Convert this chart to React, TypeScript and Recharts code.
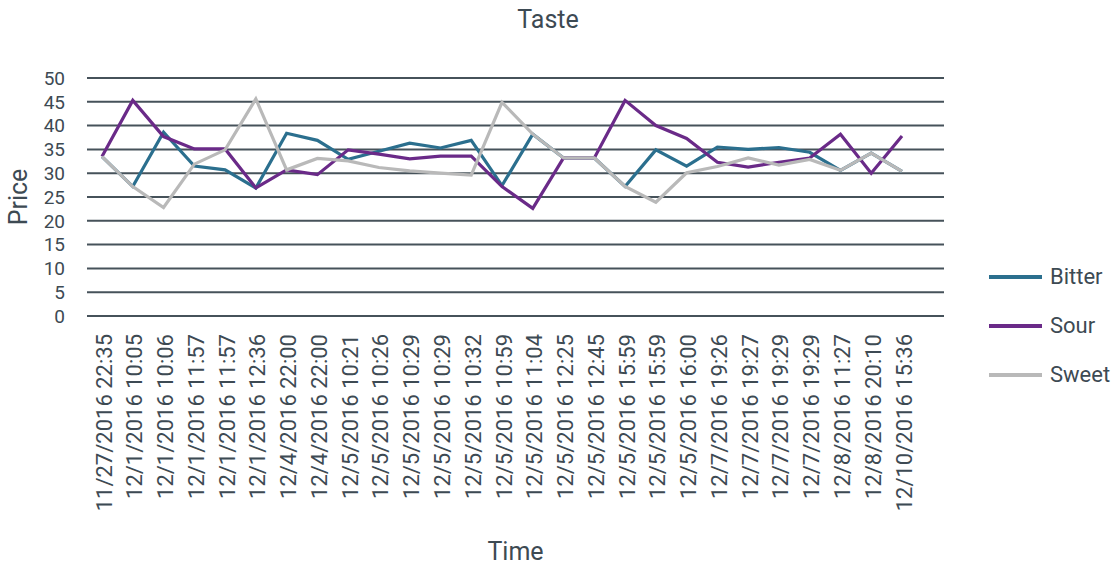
import { CartesianGrid, Label, Legend, Line, LineChart, XAxis, YAxis } from "recharts";

const times = [
  "11/27/2016 22:35", "12/1/2016 10:05", "12/1/2016 10:06", "12/1/2016 11:57", "12/1/2016 11:57",
  "12/1/2016 12:36", "12/4/2016 22:00", "12/4/2016 22:00", "12/5/2016 10:21", "12/5/2016 10:26",
  "12/5/2016 10:29", "12/5/2016 10:29", "12/5/2016 10:32", "12/5/2016 10:59", "12/5/2016 11:04",
  "12/5/2016 12:25", "12/5/2016 12:45", "12/5/2016 15:59", "12/5/2016 15:59", "12/5/2016 16:00",
  "12/7/2016 19:26", "12/7/2016 19:27", "12/7/2016 19:29", "12/7/2016 19:29", "12/8/2016 11:27",
  "12/8/2016 20:10", "12/10/2016 15:36",
];

const bitter = [
  33.5, 27.2, 38.6, 31.5, 30.7, 26.9, 38.4, 36.9, 32.9, 34.6, 36.3, 35.3, 36.9, 27.4,
  38.2, 33.2, 33.2, 27.2, 34.9, 31.5, 35.5, 35.0, 35.4, 34.4, 30.6, 34.2, 30.4,
];
const sour = [
  33.5, 45.3, 37.7, 35.1, 35.1, 26.9, 30.7, 29.7, 34.9, 34.0, 33.0, 33.6, 33.6, 27.2,
  22.6, 33.2, 33.2, 45.3, 40.0, 37.3, 32.3, 31.3, 32.3, 33.2, 38.2, 30.0, 37.8,
];
const sweet = [
  33.5, 27.2, 22.8, 31.9, 34.9, 45.6, 30.7, 33.1, 32.6, 31.2, 30.5, 30.0, 29.6, 44.9,
  38.2, 33.2, 33.2, 27.2, 23.9, 30.1, 31.4, 33.2, 31.7, 32.9, 30.6, 34.2, 30.4,
];
const yTicks = [0, 5, 10, 15, 20, 25, 30, 35, 40, 45, 50];

const series = [
  { key: "Bitter", color: "#2b6f8e" },
  { key: "Sour", color: "#6a2a88" },
  { key: "Sweet", color: "#b9b9b9" },
];

const data = times.map((t, i) => ({
  time: t,
  Bitter: bitter[i],
  Sour: sour[i],
  Sweet: sweet[i],
}));

const textColor = "#3d4a53";
const font = "Roboto, sans-serif";

function TimeTick(props: any) {
  const { x, y, payload } = props;
  const tx = x + 2;
  const ty = y + 10;
  return (
    <text
      x={tx}
      y={ty}
      transform={`rotate(-90, ${tx}, ${ty})`}
      textAnchor="end"
      dominantBaseline="central"
      fill={textColor}
      fontSize={22}
      fontFamily={font}
    >
      {payload.value}
    </text>
  );
}

function LegendBox() {
  return (
    <div style={{ fontFamily: font, color: textColor, fontSize: 22 }}>
      {series.map((s) => (
        <div key={s.key} style={{ display: "flex", alignItems: "center", height: 49 }}>
          <div style={{ width: 53, height: 4, background: s.color, marginRight: 8 }} />
          <span>{s.key}</span>
        </div>
      ))}
    </div>
  );
}

export default function App() {
  return (
    <div style={{ position: "absolute", left: 0, top: 0, width: 1114, height: 566, background: "#fff" }}>
      <div
        style={{
          position: "absolute",
          left: 0,
          top: 5,
          width: 1096,
          textAlign: "center",
          fontFamily: font,
          fontSize: 25,
          color: textColor,
        }}
      >
        Taste
      </div>
      <LineChart width={1114} height={566} data={data} margin={{ top: 78, right: 45, bottom: 0, left: 0 }}>
        <CartesianGrid vertical={false} stroke="#46525a" strokeWidth={2} />
        <XAxis
          dataKey="time"
          interval={0}
          height={250}
          axisLine={false}
          tickLine={false}
          padding={{ left: 15, right: 42 }}
          tick={<TimeTick />}
        >
          <Label value="Time" position="insideBottom" offset={6} fill={textColor} fontSize={25} fontFamily={font} />
        </XAxis>
        <YAxis
          width={87}
          domain={[0, 50]}
          ticks={yTicks}
          interval={0}
          axisLine={false}
          tickLine={false}
          tickMargin={16}
          tick={{ fill: textColor, fontSize: 19, fontFamily: font }}
        >
          <Label
            content={(p: any) => {
              const vb = p.viewBox;
              const cx = vb.x + 18;
              const cy = vb.y + vb.height / 2;
              return (
                <text
                  x={cx}
                  y={cy}
                  transform={`rotate(-90, ${cx}, ${cy})`}
                  textAnchor="middle"
                  dominantBaseline="central"
                  fill={textColor}
                  fontSize={25}
                  fontFamily={font}
                >
                  Price
                </text>
              );
            }}
          />
        </YAxis>
        <Legend
          layout="vertical"
          align="right"
          verticalAlign="middle"
          content={<LegendBox />}
          wrapperStyle={{ left: 989, top: 252, width: 125 }}
        />
        {series.map((s) => (
          <Line
            key={s.key}
            dataKey={s.key}
            stroke={s.color}
            strokeWidth={3.2}
            dot={false}
            activeDot={false}
            isAnimationActive={false}
            strokeLinejoin="miter"
          />
        ))}
      </LineChart>
    </div>
  );
}
